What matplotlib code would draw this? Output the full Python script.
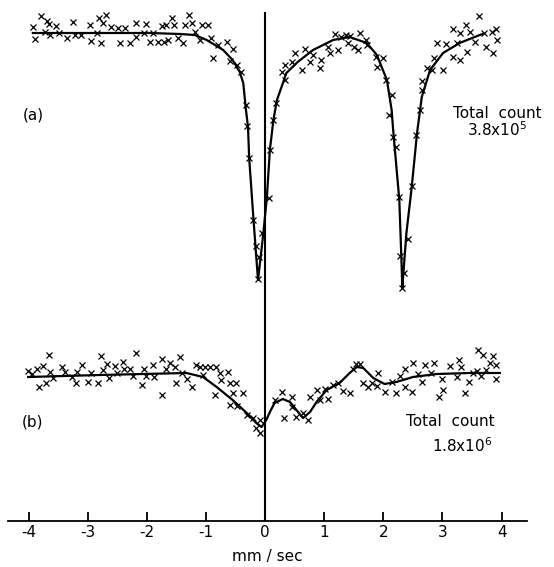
import matplotlib
matplotlib.use("Agg")
import matplotlib.pyplot as plt

plt.rcParams["axes.unicode_minus"] = False
plt.rcParams["font.family"] = "DejaVu Sans"

# -----------------------------
# Data (velocity in mm/sec, height in arbitrary units)
# -----------------------------
a_fit_x = [-3.93, -3.47, -2.80, -1.95, -1.44, -1.19, -0.99, -0.71, -0.55, -0.43,
           -0.37, -0.33, -0.29, -0.27, -0.20, -0.15, -0.12, -0.03, 0.03, 0.08,
           0.14, 0.20, 0.36, 0.55, 0.81, 1.15, 1.43, 1.72, 1.89, 2.06,
           2.14, 2.17, 2.27, 2.31, 2.32, 2.39, 2.48, 2.57, 2.65, 2.79,
           3.01, 3.29, 3.63, 3.68]
a_fit_y = [488, 488, 488, 488, 487, 486, 481, 471, 461, 449,
           438, 414, 394, 363, 304, 264, 241, 288, 324, 371,
           401, 421, 448, 459, 471, 481, 484, 478, 466, 441,
           411, 388, 321, 254, 233, 288, 334, 388, 424, 451,
           468, 478, 486, 487]

a_pts_x = [-3.93, -3.90, -3.80, -3.72, -3.69, -3.65, -3.64, -3.54, -3.48, -3.35,
           -3.25, -3.22, -3.11, -2.97, -2.94, -2.85, -2.81, -2.77, -2.74, -2.69,
           -2.60, -2.49, -2.46, -2.37, -2.29, -2.19, -2.19, -2.05, -2.01, -1.94,
           -1.89, -1.81, -1.75, -1.71, -1.67, -1.64, -1.58, -1.54, -1.47, -1.39,
           -1.36, -1.29, -1.24, -1.19, -1.10, -1.06, -0.96, -0.92, -0.88, -0.79,
           -0.65, -0.55, -0.60, -0.48, -0.40, -0.33, -0.30, -0.27, -0.20, -0.16,
           -0.11, -0.12, -0.06, 0.06, 0.08, 0.14, 0.18, 0.28, 0.33, 0.33,
           0.46, 0.50, 0.62, 0.67, 0.76, 0.81, 0.93, 0.95, 1.07, 1.09,
           1.18, 1.23, 1.29, 1.37, 1.43, 1.40, 1.50, 1.57, 1.60, 1.70,
           1.72, 1.88, 1.89, 2.00, 2.05, 2.14, 2.10, 2.17, 2.21, 2.26,
           2.28, 2.35, 2.32, 2.42, 2.48, 2.56, 2.62, 2.65, 2.66, 2.73,
           2.83, 2.91, 2.85, 3.01, 3.06, 3.17, 3.24, 3.29, 3.42, 3.18,
           3.29, 3.39, 3.47, 3.62, 3.55, 3.70, 3.74, 3.83, 3.86, 3.91,
           3.92]
a_pts_y = [494, 482, 505, 489, 500, 497, 486, 495, 488, 483,
           499, 486, 486, 496, 480, 488, 503, 478, 498, 506,
           494, 493, 478, 493, 478, 498, 484, 488, 497, 479,
           488, 479, 495, 479, 496, 481, 503, 496, 483, 478,
           496, 506, 498, 489, 481, 496, 496, 483, 463, 476,
           479, 472, 460, 456, 449, 416, 395, 363, 301, 275,
           264, 242, 288, 323, 371, 401, 418, 449, 441, 456,
           459, 468, 451, 472, 459, 466, 453, 461, 474, 468,
           487, 471, 484, 486, 485, 478, 474, 471, 488, 481,
           476, 464, 454, 463, 441, 426, 406, 384, 374, 324,
           265, 248, 233, 282, 335, 386, 411, 431, 440, 453,
           451, 478, 463, 451, 477, 464, 478, 461, 469, 492,
           488, 496, 489, 505, 479, 488, 474, 489, 468, 492,
           481]

b_fit_x = [-4.01, -2.80, -1.33, -1.05, -0.82, -0.55, -0.31, -0.15, -0.06, 0.02,
           0.08, 0.16, 0.30, 0.42, 0.53, 0.64, 0.76, 0.87, 1.04, 1.26,
           1.43, 1.55, 1.66, 1.83, 2.02, 2.22, 2.50, 2.90, 3.46, 3.97]
b_fit_y = [144, 146, 148, 144, 134, 121, 108, 98, 94, 101,
           109, 118, 122, 119, 111, 103, 109, 119, 131, 138,
           148, 154, 153, 143, 137, 139, 144, 147, 148, 148]

b_pts_x = [-4.01, -3.95, -3.86, -3.82, -3.76, -3.70, -3.65, -3.64, -3.59, -3.44,
           -3.39, -3.27, -3.20, -3.18, -3.09, -2.99, -2.94, -2.82, -2.78, -2.74,
           -2.67, -2.64, -2.54, -2.51, -2.41, -2.39, -2.28, -2.23, -2.18, -2.09,
           -2.05, -2.01, -1.90, -1.88, -1.75, -1.75, -1.68, -1.61, -1.53, -1.50,
           -1.44, -1.41, -1.33, -1.24, -1.17, -1.10, -1.02, -0.94, -0.83, -1.05,
           -0.77, -0.63, -0.74, -0.60, -0.50, -0.85, -0.54, -0.37, -0.60, -0.47,
           -0.31, -0.20, -0.09, -0.16, -0.09, 0.16, 0.28, 0.32, 0.45, 0.45,
           0.53, 0.64, 0.73, 0.76, 0.87, 0.93, 1.01, 1.07, 1.15, 1.23,
           1.31, 1.44, 1.48, 1.53, 1.61, 1.66, 1.74, 1.80, 1.91, 1.89,
           2.02, 2.14, 2.22, 2.28, 2.36, 2.36, 2.49, 2.50, 2.59, 2.66,
           2.70, 2.81, 2.85, 2.94, 3.01, 3.00, 3.12, 3.24, 3.28, 3.31,
           3.38, 3.45, 3.52, 3.58, 3.60, 3.69, 3.66, 3.74, 3.80, 3.86,
           3.91, 3.90]
b_pts_y = [150, 147, 152, 134, 155, 138, 166, 149, 143, 154,
           149, 144, 138, 149, 156, 139, 148, 138, 165, 151,
           157, 143, 155, 148, 159, 152, 152, 145, 168, 136,
           152, 145, 156, 144, 162, 126, 152, 158, 154, 138,
           164, 148, 142, 134, 156, 154, 154, 154, 154, 146,
           148, 149, 141, 138, 138, 126, 128, 128, 116, 115,
           106, 103, 101, 93, 88, 121, 129, 103, 124, 114,
           104, 108, 101, 124, 131, 121, 132, 122, 136, 138,
           130, 128, 152, 157, 157, 138, 134, 138, 148, 135,
           129, 139, 128, 145, 134, 152, 129, 158, 147, 139,
           156, 148, 158, 124, 131, 142, 155, 144, 161, 154,
           128, 139, 148, 150, 171, 166, 145, 151, 158, 165,
           156, 142]

tick_vals = [-4, -3, -2, -1, 0, 1, 2, 3, 4]
tick_labels = ["-4", "-3", "-2", "-1", "0", "1", "2", "3", "4"]

# -----------------------------
# Figure
# -----------------------------
fig = plt.figure(figsize=(5.54, 5.67), dpi=100)
ax = fig.add_axes([8 / 554, 46 / 567, 519 / 554, 521 / 567])
ax.set_xlim(-4.35, 4.43)
ax.set_ylim(0, 521)

for s in ["top", "right", "left"]:
    ax.spines[s].set_visible(False)
ax.spines["bottom"].set_linewidth(1.3)
ax.set_yticks([])
ax.set_xticks(tick_vals)
ax.set_xticklabels(tick_labels)
ax.tick_params(axis="x", direction="in", length=6.5, width=1.3, pad=3,
               labelsize=11)

# zero line
ax.plot([0, 0], [0, 508], color="black", lw=1.5)

# spectra
ax.plot(a_fit_x, a_fit_y, color="black", lw=1.6)
ax.plot(a_pts_x, a_pts_y, "x", color="black", ms=4.5, mew=0.9)
ax.plot(b_fit_x, b_fit_y, color="black", lw=1.6)
ax.plot(b_pts_x, b_pts_y, "x", color="black", ms=4.5, mew=0.9)

# labels
ax.text(-3.93, 406, "(a)", fontsize=11, ha="center", va="center")
ax.text(-3.93, 99, "(b)", fontsize=11, ha="center", va="center")
ax.text(3.92, 408, "Total  count", fontsize=11, ha="center", va="center")
ax.text(3.92, 391, r"3.8x10$^5$", fontsize=11, ha="center", va="center")
ax.text(3.14, 99, "Total  count", fontsize=11, ha="center", va="center")
ax.text(3.33, 75, r"1.8x10$^6$", fontsize=11, ha="center", va="center")

ax.set_xlabel("mm / sec", fontsize=11, labelpad=6)

fig.savefig("out.png", dpi=100)
